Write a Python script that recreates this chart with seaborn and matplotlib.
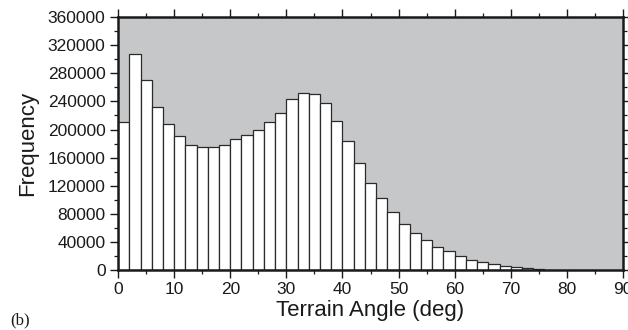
import numpy as np
import pandas as pd
import matplotlib
matplotlib.use("Agg")
import matplotlib.pyplot as plt
import seaborn as sns
from matplotlib.ticker import MultipleLocator

# ---- data ----
bin_width = 2
bin_start = list(range(0, 76, 2))  # 0,2,...,74
counts = [210000, 308000, 270000, 232000, 208000, 191000, 178000, 175000,
          175000, 178000, 186000, 192000, 200000, 210000, 223000, 243000,
          252000, 251000, 238000, 212000, 183000, 153000, 124000, 102000,
          82000, 65000, 53000, 43000, 32000, 26500, 20000, 14000,
          11000, 8100, 6200, 4700, 3200, 1200]
x_ticks = [0, 10, 20, 30, 40, 50, 60, 70, 80, 90]
y_ticks = [0, 40000, 80000, 120000, 160000, 200000, 240000, 280000, 320000, 360000]
x_label = "Terrain Angle (deg)"
y_label = "Frequency"
panel = "(b)"

df = pd.DataFrame({"angle": [b + bin_width / 2 for b in bin_start], "count": counts})

sns.set_style("ticks")
plt.rcParams["font.family"] = ["Liberation Sans", "DejaVu Sans"]

fig = plt.figure(figsize=(6.28, 3.30), dpi=100)
ax = fig.add_axes([0.188, 0.182, 0.804, 0.766])
ax.set_facecolor("#c6c7c9")

sns.histplot(data=df, x="angle", weights="count", binwidth=bin_width,
             binrange=(bin_start[0], bin_start[-1] + bin_width), ax=ax,
             color="white", edgecolor="#2a2a2a", linewidth=0.9, alpha=1.0)

ax.set_xlim(0, 90)
ax.set_ylim(0, 360000)
ax.set_xticks(x_ticks)
ax.set_yticks(y_ticks)
ax.xaxis.set_minor_locator(MultipleLocator(5))
ax.yaxis.set_minor_locator(MultipleLocator(20000))

for s in ax.spines.values():
    s.set_visible(True)
    s.set_color("#1a1a1a")
    s.set_linewidth(1.8)

ax.tick_params(axis="both", which="major", direction="out", length=6, width=1.0,
               color="#1a1a1a", labelsize=12.5, labelcolor="#1a1a1a", pad=3)
ax.tick_params(axis="both", which="minor", direction="out", length=3, width=0.9,
               color="#1a1a1a")
ax.tick_params(axis="x", which="both", top=True, labeltop=False)
ax.tick_params(axis="y", which="both", right=True, labelright=False)

ax.set_xlabel(x_label, fontsize=16, color="#1a1a1a", labelpad=2)
ax.set_ylabel(y_label, fontsize=16, color="#1a1a1a", labelpad=7)

fig.text(0.016, 0.018, panel, fontsize=12, family=["Liberation Serif", "DejaVu Serif"],
         color="#1a1a1a")

fig.savefig("out.png", dpi=100)
